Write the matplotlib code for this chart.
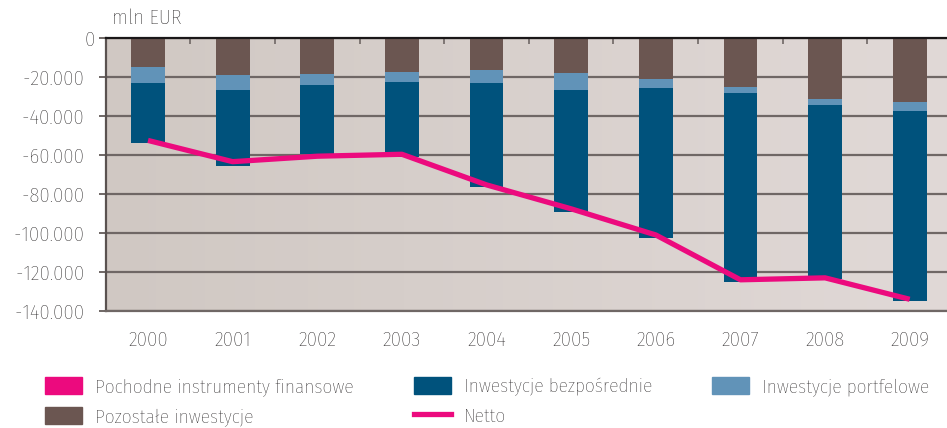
import numpy as np
import matplotlib.pyplot as plt
from matplotlib.colors import LinearSegmentedColormap
from matplotlib.patches import Patch
from matplotlib.lines import Line2D
from matplotlib.ticker import FuncFormatter

plt.rcParams['font.family'] = ['Open Sans Condensed Light', 'Fira Sans Condensed',
                               'Sofia Sans Condensed', 'DejaVu Sans']
plt.rcParams['font.weight'] = 'light'

# values in mln EUR
years = ['2000', '2001', '2002', '2003', '2004', '2005', '2006', '2007', '2008', '2009']
pochodne = [1500, 2000, 500, 1500, 1000, 1500, 1000, 1000, 500, 1000]
pozostale = [-14900, -19000, -18300, -17300, -16300, -17800, -21100, -25200, -31400, -32900]
portfelowe = [-8300, -7800, -5700, -5100, -6600, -8700, -4600, -3100, -3100, -4700]
bezposrednie = [-30800, -38600, -35300, -38800, -53700, -62900, -76700, -96700, -89000, -97200]
netto = [-52500, -63400, -60600, -59600, -75300, -87600, -101000, -124000, -123000, -134000]

c_pink = '#ec0a7e'
c_dark = '#00527c'
c_light = '#6193b8'
c_brown = '#6b5651'
c_grid = '#6f6765'
c_text = '#1a1718'

fig = plt.figure(figsize=(9.47, 4.28), dpi=100)
ax = fig.add_axes([0.1116, 0.2734, 0.8937, 0.6376])

x = np.arange(len(years))
w = 0.40

# background gradient
bg = LinearSegmentedColormap.from_list('bg', ['#d0c8c3', '#e1d9d7'])
ax.imshow(np.linspace(0, 1, 256).reshape(1, -1), cmap=bg, aspect='auto',
          extent=[0, 1, 0, 1], transform=ax.transAxes, zorder=0)

bottom = np.zeros(len(years))
ax.bar(x, pochodne, w, color=c_pink, zorder=2)
ax.bar(x, pozostale, w, bottom=bottom, color=c_brown, zorder=2)
bottom += np.array(pozostale)
ax.bar(x, portfelowe, w, bottom=bottom, color=c_light, zorder=2)
bottom += np.array(portfelowe)
ax.bar(x, bezposrednie, w, bottom=bottom, color=c_dark, zorder=2)

ax.plot(x, netto, color=c_pink, lw=3.8, zorder=3, solid_capstyle='butt')

ax.set_xlim(-0.5, 9.5)
ax.set_ylim(-140000, 0)
ax.set_yticks(np.arange(-140000, 1, 20000))
ax.yaxis.set_major_formatter(FuncFormatter(
    lambda v, p: '0' if v == 0 else '-{:,}\u2002'.format(int(abs(v))).replace(',', '.')))
ax.yaxis.grid(True, color=c_grid, lw=1.6)
ax.set_axisbelow(True)

ax.set_xticks(x)
ax.set_xticklabels(years)
ax.set_xticks(np.arange(0.5, 9.5, 1), minor=True)
ax.tick_params(axis='x', which='major', length=0, pad=14, labelsize=15, colors=c_text)
ax.tick_params(axis='x', which='minor', top=True, bottom=False, direction='in',
               length=4, width=1.2, color=c_grid)
ax.tick_params(axis='y', length=5, width=1.4, color=c_grid, labelsize=15,
               labelcolor=c_text, pad=3)

ax.spines['right'].set_visible(False)
ax.spines['top'].set_color(c_text)
ax.spines['top'].set_linewidth(1.6)
ax.spines['left'].set_color('#5a5250')
ax.spines['left'].set_linewidth(1.6)
ax.spines['bottom'].set_color(c_grid)
ax.spines['bottom'].set_linewidth(1.6)

fig.text(112 / 947, 1 - 18 / 428, 'mln EUR', fontsize=15, color=c_text,
         ha='left', va='center')

handles = [
    Patch(color=c_pink, label='Pochodne instrumenty finansowe'),
    Patch(color=c_brown, label='Pozostałe inwestycje'),
    Patch(color=c_dark, label='Inwestycje bezpośrednie'),
    Line2D([], [], color=c_pink, lw=3.8, label='Netto'),
    Patch(color=c_light, label='Inwestycje portfelowe'),
]
fig.legend(handles=handles, ncol=3, loc='lower left', bbox_to_anchor=(0.029, -0.0355),
           frameon=False, fontsize=14, handlelength=1.9, handleheight=1.0,
           handletextpad=0.67, columnspacing=3.1, labelspacing=0.55,
           labelcolor=c_text)

fig.savefig('out.png', dpi=100)
